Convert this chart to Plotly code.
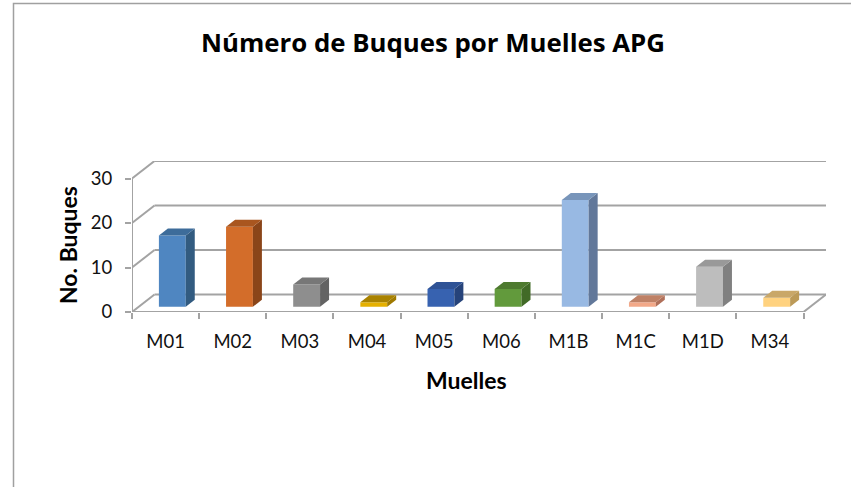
import plotly.graph_objects as go

# ---------------- data ----------------
categories = ["M01", "M02", "M03", "M04", "M05", "M06", "M1B", "M1C", "M1D", "M34"]
values = [16, 18, 5, 1, 4, 4, 24, 1, 9, 2]
y_ticks = [0, 10, 20, 30]

front_colors = ["#4F86C1", "#D36D2A", "#8E8E8E", "#E5B000", "#3762B0",
                "#629A3C", "#98B9E3", "#F2A888", "#BDBDBD", "#FFD27F"]
side_colors = ["#325B80", "#8A4519", "#636363", "#9F7900", "#26437A",
               "#416A27", "#62789A", "#B0705A", "#808080", "#BC9A58"]
top_colors = ["#3D6C9A", "#A9561F", "#777777", "#A98200", "#2F5396",
              "#4E7A2F", "#7895BA", "#BF8166", "#999999", "#C9A768"]

title_text = "Número de Buques por Muelles APG"
x_title = "Muelles"
y_title = "No. Buques"

# ---------------- geometry (pseudo-3D depth) ----------------
W, H = 851, 487
ML, MR, MT, MB = 132, 25, 161, 175
plot_w = W - ML - MR
plot_h = H - MT - MB
depth_px_x, depth_px_y = 22.5, 17.5
n = len(categories)
sx = (plot_w - depth_px_x) / n          # px per x unit
DX = depth_px_x / sx
sy = (plot_h - depth_px_y) / max(y_ticks)
DY = depth_px_y / sy

BAR_W = 0.40
F1, F2 = 0.30, 0.70                     # depth fractions of bar front/back
S1, S2 = F1 * DX, F2 * DX
B1, B2 = F1 * DY, F2 * DY

grid_color = "#A3A3A3"
idx = list(range(n))

fig = go.Figure()

# front faces
fig.add_trace(go.Bar(
    x=idx, y=values, base=B1, width=BAR_W, offset=-BAR_W / 2 + S1,
    marker=dict(color=front_colors, line=dict(width=0)),
    hoverinfo="skip"))

# side and top faces
for i, v in enumerate(values):
    x0 = i - BAR_W / 2
    x1 = i + BAR_W / 2
    fig.add_trace(go.Scatter(
        x=[x1 + S1, x1 + S1, x1 + S2, x1 + S2, x1 + S1],
        y=[B1, v + B1, v + B2, B2, B1],
        fill="toself", fillcolor=side_colors[i], mode="lines",
        line=dict(width=0), hoverinfo="skip"))
    fig.add_trace(go.Scatter(
        x=[x0 + S1, x1 + S1, x1 + S2, x0 + S2, x0 + S1],
        y=[v + B1, v + B1, v + B2, v + B2, v + B1],
        fill="toself", fillcolor=top_colors[i], mode="lines",
        line=dict(width=0), hoverinfo="skip"))

shapes = []
line_style = dict(color=grid_color, width=2)
# back wall gridlines and left wall diagonals
for t in y_ticks:
    shapes.append(dict(type="line", xref="x", yref="y", layer="below",
                       x0=-0.5 + DX, x1=n - 0.5 + DX, y0=t + DY, y1=t + DY,
                       line=line_style))
    shapes.append(dict(type="line", xref="x", yref="y", layer="below",
                       x0=-0.5, x1=-0.5 + DX, y0=t, y1=t + DY, line=line_style))
# front left vertical axis line
shapes.append(dict(type="line", xref="x", yref="y", layer="below",
                   x0=-0.5, x1=-0.5, y0=0, y1=max(y_ticks), line=line_style))
# floor front edge and right diagonal
shapes.append(dict(type="line", xref="x", yref="y", layer="below",
                   x0=-0.5, x1=n - 0.5, y0=0, y1=0, line=line_style))
shapes.append(dict(type="line", xref="x", yref="y", layer="below",
                   x0=n - 0.5, x1=n - 0.5 + DX, y0=0, y1=DY, line=line_style))
# outer chart border
shapes.append(dict(type="rect", xref="paper", yref="paper", layer="below",
                   x0=(13.5 - ML) / plot_w, x1=(900 - ML) / plot_w,
                   y0=(H - MB - 560) / plot_h, y1=(H - MB - 3.5) / plot_h,
                   line=dict(color="#A0A0A0", width=1.5), fillcolor="rgba(0,0,0,0)"))

font_family = "Lato, Carlito, 'Open Sans', sans-serif"
title_family = "'Open Sans', Lato, sans-serif"

fig.update_layout(
    width=W, height=H,
    margin=dict(l=ML, r=MR, t=MT, b=MB, pad=0),
    paper_bgcolor="white", plot_bgcolor="white",
    showlegend=False,
    font=dict(family=font_family, color="#000000"),
    shapes=shapes,
    title=dict(text="<b>" + title_text + "</b>", x=433 / W, y=1 - 43 / H,
               xref="container", yref="container",
               xanchor="center", yanchor="middle",
               font=dict(size=25.8, color="#000000", family=title_family)),
    xaxis=dict(range=[-0.5, n - 0.5 + DX], tickmode="array", tickvals=idx,
               ticktext=categories, ticks="", showgrid=False, zeroline=False,
               showline=False, tickfont=dict(size=18.5, color="#111111"),
               ticklabelstandoff=16,
               minor=dict(tickmode="array", tickvals=[i - 0.5 for i in range(n + 1)],
                          ticks="outside", ticklen=6, tickwidth=2,
                          tickcolor=grid_color, showgrid=False)),
    yaxis=dict(range=[0, max(y_ticks) + DY], tickmode="array", tickvals=y_ticks,
               ticks="outside", ticklen=6, tickwidth=2, tickcolor=grid_color,
               showgrid=False, zeroline=False, showline=False,
               tickfont=dict(size=18.5, color="#111111"), ticklabelstandoff=9),
    annotations=[
        dict(text="<b>" + x_title + "</b>", xref="paper", yref="paper",
             x=(466 - ML) / plot_w, y=(H - MB - 380) / plot_h,
             xanchor="center", yanchor="middle", showarrow=False,
             font=dict(size=23, color="#000000")),
        dict(text="<b>" + y_title + "</b>", xref="paper", yref="paper",
             x=(68 - ML) / plot_w, y=(H - MB - 245) / plot_h,
             xanchor="center", yanchor="middle", showarrow=False, textangle=-90,
             font=dict(size=23, color="#000000")),
    ],
)

fig.write_html("out.html", config={"displayModeBar": False},
               post_script="document.body.style.margin='0px';")
